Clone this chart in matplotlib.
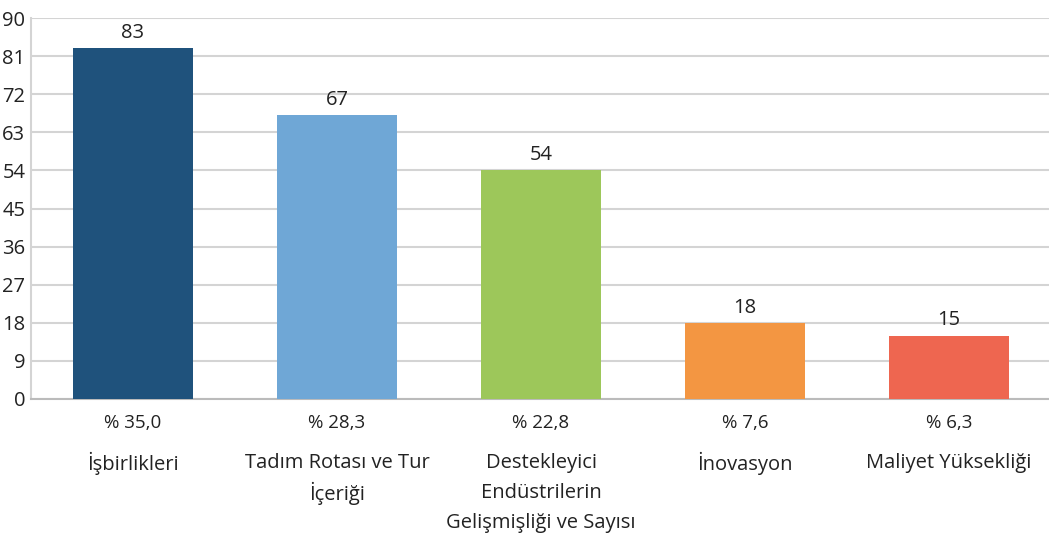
import matplotlib.pyplot as plt

categories = ['İşbirlikleri', 'Tadım Rotası ve Tur\nİçeriği', 'Destekleyici\nEndüstrilerin\nGelişmişliği ve Sayısı',
              'İnovasyon', 'Maliyet Yüksekliği']
counts = [83, 67, 54, 18, 15]
shares = ['% 35,0', '% 28,3', '% 22,8', '% 7,6', '% 6,3']
bar_colors = ['#1f527c', '#6fa7d6', '#9dc75a', '#f39642', '#ee6650']
yticks = [0, 9, 18, 27, 36, 45, 54, 63, 72, 81, 90]

plt.rcParams['font.family'] = ['Open Sans', 'DejaVu Sans']

fig = plt.figure(figsize=(10.49, 5.39), dpi=100)
ax = fig.add_axes([31 / 1049, 140 / 539, 1020 / 1049, 381 / 539])

x = range(len(counts))
ax.bar(x, counts, width=0.588, color=bar_colors, zorder=3)
for xi, v in zip(x, counts):
    ax.text(xi, v + 1.2, str(v), ha='center', va='bottom', fontsize=14.5, color='#222222')

ax.set_xlim(-0.5, 4.5)
ax.set_ylim(0, 90)
ax.set_yticks(yticks)
ax.set_yticklabels([str(t) for t in yticks], fontsize=14.5, color='#222222')
ax.tick_params(axis='y', length=0, pad=4)
ax.set_xticks([])
ax.grid(axis='y', color='#d4d4d4', linewidth=1.5, zorder=0)

for s in ['top', 'right']:
    ax.spines[s].set_visible(False)
ax.spines['left'].set_color('#d4d4d4')
ax.spines['left'].set_linewidth(1.5)
ax.spines['bottom'].set_color('#bbbbbb')
ax.spines['bottom'].set_linewidth(1.5)

# share line, then the category name one line at a time (30 px apart)
for xi, share, name in zip(x, shares, categories):
    ax.annotate(share, (xi, 0), xytext=(0, -24 * 0.72), textcoords='offset points',
                ha='center', va='center', fontsize=13.5, color='#222222')
    for k, line in enumerate(name.split('\n')):
        ax.annotate(line, (xi, 0), xytext=(0, -(64 + 30 * k) * 0.72), textcoords='offset points',
                    ha='center', va='center', fontsize=14.5, color='#222222')

fig.savefig('out.png', dpi=100)
